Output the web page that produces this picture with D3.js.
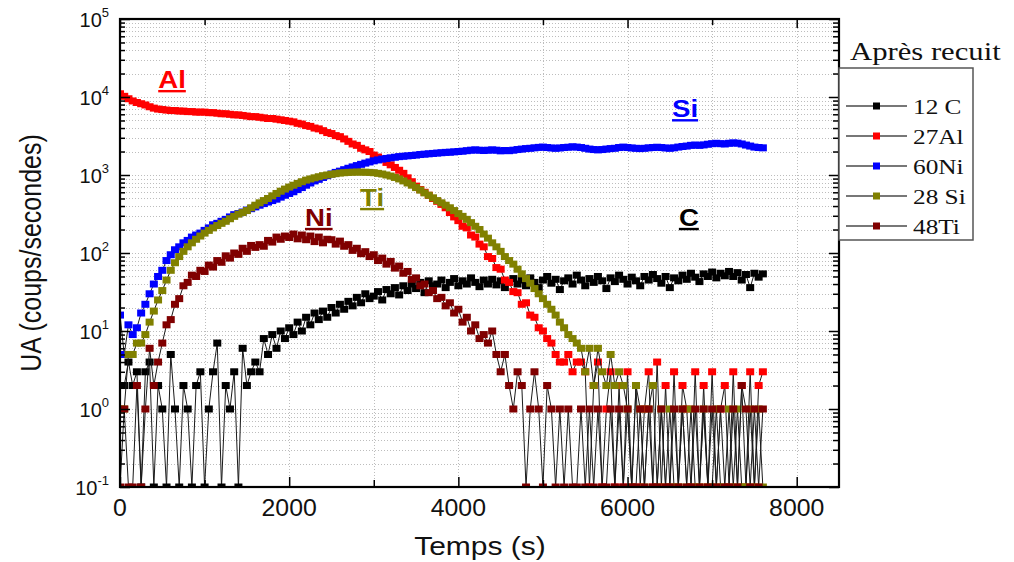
<!DOCTYPE html>
<html><head><meta charset="utf-8">
<script src="https://cdn.jsdelivr.net/npm/d3@7"></script>
<style>body{margin:0;background:#fff}</style>
</head><body><svg id="c" width="1014" height="562"></svg>
<script>
// acquisition times (s)
const times = [
0,50,100,150,200,250,300,350,400,450,
500,550,600,650,700,750,800,850,900,950,
1000,1050,1100,1150,1200,1250,1300,1350,1400,1450,
1500,1550,1600,1650,1700,1750,1800,1850,1900,1950,
2000,2050,2100,2150,2200,2250,2300,2350,2400,2450,
2500,2550,2600,2650,2700,2750,2800,2850,2900,2950,
3000,3050,3100,3150,3200,3250,3300,3350,3400,3450,
3500,3550,3600,3650,3700,3750,3800,3850,3900,3950,
4000,4050,4100,4150,4200,4250,4300,4350,4400,4450,
4500,4550,4600,4650,4700,4750,4800,4850,4900,4950,
5000,5050,5100,5150,5200,5250,5300,5350,5400,5450,
5500,5550,5600,5650,5700,5750,5800,5850,5900,5950,
6000,6050,6100,6150,6200,6250,6300,6350,6400,6450,
6500,6550,6600,6650,6700,6750,6800,6850,6900,6950,
7000,7050,7100,7150,7200,7250,7300,7350,7400,7450,
7500,7550,7600];

const c12 = [
2,2,4,2,3,0,3,4,0,2,
1,0,5,1,0,2,1,0,2,3,
0,1,3,7,0,2,1,3,0,6,
2,3,4,3,8,5,9,6,10,8,
11,9,13,10,15,12,17,14,18,15,
20,17,22,19,24,21,27,23,30,26,
28,32,25,34,30,36,29,38,33,40,
35,42,31,44,38,40,45,36,42,47,
38,44,40,48,42,37,45,40,46,39,
44,36,42,47,40,45,38,48,42,36,
45,50,41,46,34,44,48,40,52,45,
38,47,42,50,44,35,48,43,52,46,
40,49,44,38,50,45,53,47,41,50,
36,48,44,52,46,55,49,43,54,50,
57,48,55,51,58,50,56,45,53,36,
55,49,54];

const al27 = [
11000,10200,9500,8900,8500,8200,7900,7500,7200,7000,
6900,6800,6700,6700,6600,6600,6500,6500,6400,6400,
6400,6300,6300,6200,6100,6100,6000,5900,5900,5800,
5700,5600,5600,5500,5400,5300,5300,5200,5100,5000,
4900,4800,4600,4500,4300,4200,4000,3900,3700,3500,
3400,3200,3100,2900,2700,2500,2400,2200,2100,2000,
1800,1700,1600,1450,1350,1250,1150,1050,920,820,
720,650,600,550,500,460,420,380,330,290,
260,220,210,170,160,130,120,90,85,65,
62,45,42,32,31,22,23,16,15,11,
10,8,7,5,4,4,5,3,4,4,
3,0,2,4,0,1,3,0,2,0,
3,0,2,0,1,3,0,4,0,2,
0,3,0,2,1,0,3,0,2,0,
3,0,1,2,0,3,0,2,0,3,
0,2,3];

const ni60 = [
16,5,12,9,11,17,22,30,40,50,
60,80,95,110,120,135,145,160,170,180,
195,210,230,240,255,270,290,310,320,335,
355,370,390,410,430,450,470,490,520,550,
580,610,650,690,740,790,840,880,930,980,
1030,1080,1120,1170,1220,1270,1320,1370,1420,1470,
1520,1560,1600,1630,1660,1690,1720,1740,1760,1780,
1800,1830,1850,1870,1890,1910,1930,1950,1960,1980,
2000,2020,2050,2080,2100,2080,2060,2080,2100,2080,
2040,2060,2050,2080,2120,2150,2180,2200,2230,2260,
2280,2250,2220,2200,2220,2250,2270,2300,2280,2250,
2200,2150,2120,2100,2120,2150,2180,2200,2250,2280,
2250,2220,2200,2180,2200,2230,2250,2270,2250,2220,
2200,2230,2280,2320,2350,2400,2420,2400,2430,2480,
2520,2550,2520,2500,2550,2580,2560,2500,2420,2350,
2280,2250,2230];

const si28 = [
1,1,5,5,7,7,9,13,18,25,
33,45,60,75,90,105,120,135,150,165,
180,195,210,225,240,255,275,295,315,330,
350,380,410,440,470,500,540,580,620,660,
700,740,780,820,860,890,920,950,980,1000,
1020,1040,1060,1070,1080,1085,1090,1090,1085,1080,
1070,1050,1030,1000,970,930,890,840,790,740,
690,640,590,550,510,470,440,410,380,350,
320,295,270,245,220,200,175,155,135,120,
105,90,80,72,62,54,47,41,35,30,
26,22,19,16,13,11,9,8,7,6,
3,6,2,6,3,2,5,2,3,2,
1,0,2,1,0,1,2,0,1,0,
1,0,0,1,0,1,0,0,1,0,
0,1,0,0,1,0,1,0,0,1,
0,1,0];

const ti48 = [
0,1,0,0,2,0,1,6,2,4,
7,12,14,22,26,38,42,52,50,60,
58,70,66,80,76,92,86,100,96,115,
105,125,118,128,122,145,138,160,150,165,
158,175,152,170,148,165,140,160,135,150,
148,130,142,122,128,108,115,98,104,90,
95,80,86,72,78,64,68,55,58,46,
48,38,40,31,33,26,27,21,23,17,
19,13,15,10,12,8,9,7,10,5,
3,5,2,1,3,2,0,1,3,1,
0,2,1,0,1,0,1,0,0,1,
0,1,0,1,0,0,1,0,1,0,
1,0,0,1,0,1,0,0,1,0,
0,1,0,1,0,0,1,0,1,0,
1,0,1,0,0,1,0,2,1,0,
1,0,1];

const seriesNames = ["12 C","27Al","60Ni","28 Si","48Ti"];
const seriesColors = ["#000000","#ff0000","#0000ff","#808000","#800000"];
const seriesValues = [c12, al27, ni60, si28, ti48];

const xTickLabels = [0,2000,4000,6000,8000];
const xMinorTicks = [1000,3000,5000,7000];
const yExponents = [-1,0,1,2,3,4,5];

const annotations = [
  {text:"Al", t:615, v:13000, color:"#ff0000"},
  {text:"Si", t:6680, v:5500, color:"#0000ff"},
  {text:"Ti", t:2980, v:400, color:"#808000"},
  {text:"Ni", t:2350, v:222, color:"#800000"},
  {text:"C", t:6725, v:222, color:"#000000"}
];

const svg = d3.select("#c");
const X0 = 120, X1 = 839, Y0 = 19, Y1 = 487;
const x = d3.scaleLinear().domain([0,8500]).range([X0,X1]);
const y = d3.scaleLog().domain([0.1,1e5]).range([Y1,Y0]);
const yv = v => y(Math.max(v, 0.1));
const sans = "'Liberation Sans', Arial, sans-serif";
const serif = "'Liberation Serif', 'Times New Roman', serif";

// grid
const minorVals = [];
for (let e=-1;e<=4;e++) for (let m=1;m<=9;m++) { const v=m*Math.pow(10,e); if (v>0.1) minorVals.push(v); }
const grid = svg.append("g").attr("stroke","#bdbdbd").attr("stroke-width",1).attr("stroke-dasharray","1,2");
minorVals.forEach(v => grid.append("line").attr("x1",X0).attr("x2",X1).attr("y1",Math.round(y(v))+0.5).attr("y2",Math.round(y(v))+0.5));
[1000,2000,3000,4000,5000,6000,7000,8000].forEach(t => grid.append("line").attr("y1",Y0).attr("y2",Y1).attr("x1",Math.round(x(t))+0.5).attr("x2",Math.round(x(t))+0.5));

// data
svg.append("clipPath").attr("id","plot").append("rect").attr("x",X0).attr("y",Y0).attr("width",X1-X0).attr("height",Y1-Y0);
const dataG = svg.append("g").attr("clip-path","url(#plot)");
const line = d3.line().x((d,i)=>x(times[i])).y(d=>yv(d));
seriesValues.forEach((vals,k) => {
  const g = dataG.append("g");
  g.append("path").attr("d", line(vals)).attr("fill","none").attr("stroke","#1a1a1a").attr("stroke-width",1);
  g.selectAll("rect").data(vals).join("rect")
    .attr("x",(d,i)=>x(times[i])-4).attr("y",d=>yv(d)-3.5).attr("width",8).attr("height",7)
    .attr("fill",seriesColors[k]);
});

// axes ticks
function axisG(axis, tx, ty){ const g=svg.append("g").attr("transform",`translate(${tx},${ty})`).call(axis); g.select(".domain").remove(); g.selectAll("text").remove(); g.selectAll("line").attr("stroke","#000").attr("stroke-width",1.5); return g; }
const yMajor = yExponents.map(e=>Math.pow(10,e));
const yMinor = minorVals.filter(v=>!yMajor.includes(v));
axisG(d3.axisLeft(y).tickValues(yMajor).tickSize(-10), X0, 0);
axisG(d3.axisLeft(y).tickValues(yMinor).tickSize(-5), X0, 0);
axisG(d3.axisRight(y).tickValues(yMajor).tickSize(-10), X1, 0);
axisG(d3.axisRight(y).tickValues(yMinor).tickSize(-6), X1, 0);
axisG(d3.axisBottom(x).tickValues(xTickLabels).tickSize(-10), 0, Y1);
axisG(d3.axisBottom(x).tickValues(xMinorTicks).tickSize(-7), 0, Y1);
axisG(d3.axisTop(x).tickValues(xTickLabels).tickSize(-9), 0, Y0);
axisG(d3.axisTop(x).tickValues(xMinorTicks).tickSize(-6), 0, Y0);

// frame
svg.append("rect").attr("x",X0).attr("y",Y0).attr("width",X1-X0).attr("height",Y1-Y0).attr("fill","none").attr("stroke","#000").attr("stroke-width",2.2);

// tick labels
xTickLabels.forEach(t => {
  svg.append("text").attr("transform",`translate(${x(t)},516) scale(1.08,1)`).attr("text-anchor","middle")
    .attr("font-family",sans).attr("font-size",23).attr("fill","#111").text(t);
});
yExponents.forEach(e => {
  const tx = svg.append("text").attr("transform",`translate(109,${y(Math.pow(10,e))+7.5})`).attr("text-anchor","end")
    .attr("font-family",sans).attr("font-size",20).attr("fill","#111");
  tx.append("tspan").text("10");
  tx.append("tspan").attr("dy",-10).attr("font-size",13).text(e);
});

// axis titles
svg.append("text").attr("transform","translate(480,555) scale(1.2,1)").attr("text-anchor","middle")
  .attr("font-family",sans).attr("font-size",25).attr("fill","#111").text("Temps (s)");
svg.append("text").attr("transform","translate(41,253) scale(1.2,1) rotate(-90)").attr("text-anchor","middle")
  .attr("font-family",sans).attr("font-size",25).attr("fill","#111").text("UA (coups/secondes)");

// annotations
annotations.forEach(a => {
  svg.append("text").attr("transform",`translate(${x(a.t)},${y(a.v)}) scale(1.15,1)`).attr("text-anchor","middle")
    .attr("font-family",sans).attr("font-weight","bold").attr("font-size",24).attr("fill",a.color)
    .attr("text-decoration","underline").text(a.text);
});

// legend
svg.append("text").attr("transform","translate(850,60) scale(1.18,1)").attr("font-family",serif).attr("font-size",26).attr("fill","#111").text("Après recuit");
svg.append("rect").attr("x",839).attr("y",68).attr("width",134).attr("height",172).attr("fill","#fff").attr("stroke","#555").attr("stroke-width",1.5);
seriesNames.forEach((n,k) => {
  const ry = 106 + k*30;
  svg.append("line").attr("x1",846).attr("x2",907).attr("y1",ry).attr("y2",ry).attr("stroke","#777").attr("stroke-width",2);
  svg.append("rect").attr("x",873).attr("y",ry-3.5).attr("width",7).attr("height",7).attr("fill",seriesColors[k]);
  svg.append("text").attr("transform",`translate(913,${ry+8}) scale(1.15,1)`).attr("font-family",serif).attr("font-size",22).attr("fill","#111").text(n);
});
</script></body></html>
